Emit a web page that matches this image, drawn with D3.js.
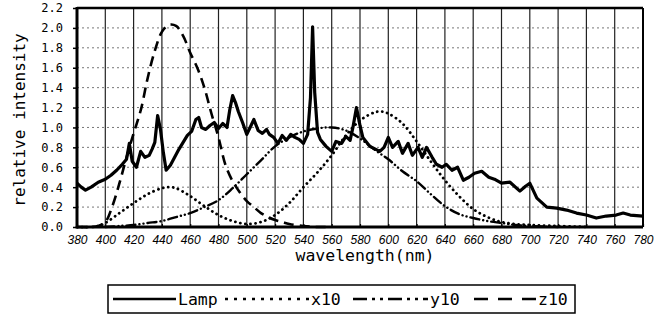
<!DOCTYPE html>
<html lang="en">
<head>
  <meta charset="UTF-8">
  <script src="https://cdn.jsdelivr.net/npm/d3@7/dist/d3.min.js"></script>
  <title>relative intensity</title>
  <style>
    * { margin: 0; padding: 0; }
    html, body { width: 100%; height: 100%; background: #fff; }
    text { fill: #000; }
  </style>
</head>
<body>
<div id="box"></div>
<script>
  // tick labels
  var xTicks = d3.range(380, 781, 20)
  var yTicks = [0.0, 0.2, 0.4, 0.6, 0.8, 1.0, 1.2, 1.4, 1.6, 1.8, 2.0, 2.2]

  // lamp spectrum
  var lampWl = [380, 383, 386, 390, 395, 400, 404, 408, 412, 415, 417, 419, 422, 425, 428, 431, 433, 435, 437, 439,
    441, 443, 446, 449, 452, 455, 458, 461, 464, 466, 468, 471, 474, 477, 480, 483, 486, 488, 490, 492,
    494, 497, 500, 503, 505, 508, 511, 514, 516, 519, 522, 525, 528, 531, 534, 537, 540, 543, 545, 546.5,
    548, 550, 552, 556, 560, 563, 567, 570, 573, 575, 577.5, 580, 582, 587, 594, 597, 600, 603, 607, 610,
    614, 617, 621, 624, 627, 631, 634, 638, 641, 645, 649, 653, 657, 661, 666, 671, 675, 680, 686, 693,
    697, 700, 702, 705, 712, 719, 726, 733, 740, 747, 754, 761, 766, 771, 780]
  var lampVal = [0.44, 0.40, 0.37, 0.40, 0.45, 0.48, 0.52, 0.57, 0.63, 0.68, 0.84, 0.66, 0.60, 0.76, 0.70, 0.72, 0.78, 0.85, 1.12, 0.98,
    0.75, 0.57, 0.62, 0.70, 0.78, 0.85, 0.92, 0.96, 1.08, 1.10, 1.00, 0.98, 1.02, 1.05, 0.99, 1.04, 1.00, 1.18, 1.32, 1.25,
    1.16, 1.05, 0.93, 1.02, 1.08, 0.97, 0.94, 0.98, 0.93, 0.90, 0.84, 0.92, 0.87, 0.93, 0.90, 0.88, 0.84, 0.93, 1.30, 2.01,
    1.35, 0.95, 0.88, 0.81, 0.76, 0.86, 0.84, 0.91, 0.87, 1.00, 1.20, 1.02, 0.90, 0.81, 0.76, 0.80, 0.90, 0.80, 0.86, 0.74,
    0.84, 0.72, 0.80, 0.70, 0.80, 0.70, 0.63, 0.60, 0.63, 0.57, 0.60, 0.47, 0.50, 0.54, 0.56, 0.50, 0.48, 0.44, 0.45, 0.36,
    0.41, 0.44, 0.38, 0.29, 0.20, 0.19, 0.17, 0.14, 0.12, 0.09, 0.11, 0.12, 0.14, 0.12, 0.11]

  // x10 colour matching curve
  var xWl = [380, 390, 395, 400, 410, 420, 430, 440, 445, 450, 460, 470, 480, 490, 500, 510, 520, 530, 540, 550,
    560, 570, 580, 590, 595, 600, 610, 620, 630, 640, 650, 660, 670, 680, 690, 700, 720, 740]
  var xVal = [0, 0, 0.01, 0.04, 0.14, 0.24, 0.33, 0.39, 0.40, 0.39, 0.31, 0.21, 0.12, 0.06, 0.03, 0.05, 0.12, 0.24, 0.40, 0.55,
    0.72, 0.92, 1.07, 1.15, 1.16, 1.14, 1.04, 0.86, 0.66, 0.47, 0.31, 0.18, 0.10, 0.05, 0.03, 0.02, 0.01, 0]

  // y10
  var yWl = [400, 410, 420, 430, 440, 450, 460, 470, 480, 490, 500, 510, 520, 530, 540, 550, 560, 570, 580, 590,
    600, 610, 620, 630, 640, 650, 660, 670, 680, 690, 700, 720]
  var yVal = [0, 0.01, 0.02, 0.04, 0.06, 0.10, 0.14, 0.20, 0.27, 0.39, 0.53, 0.67, 0.81, 0.90, 0.96, 0.99, 1.00, 0.97, 0.89, 0.78,
    0.68, 0.56, 0.46, 0.33, 0.21, 0.13, 0.09, 0.06, 0.04, 0.02, 0.01, 0]

  // z10
  var zWl = [380, 390, 395, 400, 405, 410, 415, 420, 425, 430, 435, 440, 445, 450, 455, 460, 465, 470, 475, 480,
    485, 490, 495, 500, 505, 510, 515, 520, 525, 530, 540, 550, 560]
  var zVal = [0, 0, 0.01, 0.05, 0.21, 0.44, 0.70, 0.94, 1.17, 1.50, 1.77, 1.96, 2.03, 2.02, 1.92, 1.75, 1.60, 1.40, 1.14, 0.90,
    0.62, 0.46, 0.35, 0.26, 0.20, 0.14, 0.10, 0.07, 0.05, 0.03, 0.01, 0, 0]

  var legendNames = ['Lamp', 'x10', 'y10', 'z10']

  // canvas
  var width = 665
  var height = 318
  var svg = d3.select('#box')
    .append('svg')
    .attr('width', width)
    .attr('height', height)
    .style('display', 'block')

  // plot box (not "top": that name is taken by window.top)
  var pLeft = 77, pRight = 643, pTop = 8, pBottom = 227

  var xs = d3.scaleLinear().domain([380, 780]).range([pLeft, pRight])
  var ys = d3.scaleLinear().domain([0, 2.2]).range([pBottom, pTop])

  // grid
  svg.append('g').selectAll('line')
    .data(yTicks.slice(1, -1))
    .enter().append('line')
    .attr('x1', pLeft).attr('x2', pRight)
    .attr('y1', function (d) { return ys(d) }).attr('y2', function (d) { return ys(d) })
    .attr('stroke', '#777').attr('stroke-width', 1).attr('stroke-dasharray', '2,3')

  svg.append('g').selectAll('line')
    .data(xTicks.slice(1, -1))
    .enter().append('line')
    .attr('x1', function (d) { return xs(d) }).attr('x2', function (d) { return xs(d) })
    .attr('y1', pTop).attr('y2', pBottom)
    .attr('stroke', '#222').attr('stroke-width', 1.2)

  // y axis
  var yaxis = d3.axisLeft(ys)
    .tickValues(yTicks)
    .tickSize(4)
    .tickFormat(d3.format('.1f'))
  var gy = svg.append('g').attr('transform', 'translate(' + pLeft + ',0)').call(yaxis)
  gy.select('.domain').remove()
  gy.selectAll('line').attr('stroke', '#000').attr('stroke-width', 1.5)
  gy.selectAll('text')
    .attr('x', -14)
    .style('font-family', 'DejaVu Sans Mono')
    .style('font-size', '12px')

  // x axis
  var xaxis = d3.axisBottom(xs)
    .tickValues(xTicks)
    .tickSize(-3)
    .tickPadding(8)
  var gx = svg.append('g').attr('transform', 'translate(0,' + pBottom + ')').call(xaxis)
  gx.select('.domain').remove()
  gx.selectAll('line').attr('stroke', '#000').attr('stroke-width', 1.2)
  gx.selectAll('text')
    .style('font-family', 'Liberation Sans')
    .style('font-style', 'italic')
    .style('font-size', '12px')

  // curves
  function pts(wl, v) {
    return wl.map(function (w, i) { return [w, v[i]] })
  }
  var smooth = d3.line()
    .x(function (d) { return xs(d[0]) })
    .y(function (d) { return ys(d[1]) })
    .curve(d3.curveCatmullRom)
  var straight = d3.line()
    .x(function (d) { return xs(d[0]) })
    .y(function (d) { return ys(d[1]) })

  var dashes = {
    Lamp: null,
    x10: '0.1,5',
    y10: '9,4,0.1,4,0.1,4',
    z10: '10,6'
  }

  svg.append('path').datum(pts(zWl, zVal)).attr('d', smooth)
    .attr('fill', 'none').attr('stroke', '#000').attr('stroke-width', 2.6)
    .attr('stroke-dasharray', dashes.z10)
  svg.append('path').datum(pts(yWl, yVal)).attr('d', smooth)
    .attr('fill', 'none').attr('stroke', '#000').attr('stroke-width', 2.4)
    .attr('stroke-linecap', 'round').attr('stroke-dasharray', dashes.y10)
  svg.append('path').datum(pts(xWl, xVal)).attr('d', smooth)
    .attr('fill', 'none').attr('stroke', '#000').attr('stroke-width', 2.8)
    .attr('stroke-linecap', 'round').attr('stroke-dasharray', dashes.x10)
  svg.append('path').datum(pts(lampWl, lampVal)).attr('d', straight)
    .attr('fill', 'none').attr('stroke', '#000').attr('stroke-width', 3.2)
    .attr('stroke-linejoin', 'round')

  // frame
  svg.append('line').attr('x1', pLeft).attr('x2', pLeft).attr('y1', pTop - 1).attr('y2', pBottom + 1.5)
    .attr('stroke', '#000').attr('stroke-width', 3)
  svg.append('line').attr('x1', pLeft).attr('x2', pRight).attr('y1', pBottom).attr('y2', pBottom)
    .attr('stroke', '#000').attr('stroke-width', 3)
  svg.append('line').attr('x1', pLeft).attr('x2', pRight).attr('y1', pTop).attr('y2', pTop)
    .attr('stroke', '#000').attr('stroke-width', 2.5)
  svg.append('line').attr('x1', pRight).attr('x2', pRight).attr('y1', pTop).attr('y2', pBottom)
    .attr('stroke', '#000').attr('stroke-width', 2)

  // axis titles
  svg.append('text')
    .attr('transform', 'translate(25,120) rotate(-90)')
    .attr('text-anchor', 'middle')
    .style('font-family', 'DejaVu Sans Mono')
    .style('font-size', '16px')
    .text('relative intensity')
  svg.append('text')
    .attr('x', 365).attr('y', 261)
    .attr('text-anchor', 'middle')
    .style('font-family', 'DejaVu Sans Mono')
    .style('font-size', '16.5px')
    .text('wavelength(nm)')

  // legend
  var lg = svg.append('g')
  lg.append('rect')
    .attr('x', 108).attr('y', 285).attr('width', 467).attr('height', 28)
    .attr('fill', 'none').attr('stroke', '#000').attr('stroke-width', 1.5)
  var legendPos = [[113, 176], [225, 309], [353, 428], [474, 536]]
  var legendDash = {
    Lamp: null,
    x10: '3,6',
    y10: '14,5,3,5,3,5',
    z10: '14,10'
  }
  legendNames.forEach(function (n, i) {
    var p = legendPos[i]
    lg.append('line')
      .attr('x1', p[0]).attr('x2', p[1]).attr('y1', 299).attr('y2', 299)
      .attr('stroke', '#000').attr('stroke-width', 2.4)
      .attr('stroke-dasharray', legendDash[n])
    lg.append('text')
      .attr('x', p[1] + 2).attr('y', 305)
      .style('font-family', 'DejaVu Sans Mono')
      .style('font-size', '16.5px')
      .text(n)
  })
</script>
</body>
</html>
